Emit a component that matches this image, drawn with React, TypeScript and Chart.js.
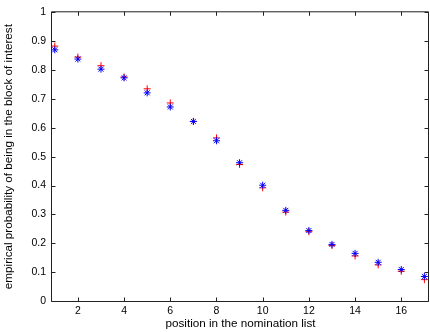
import React, { useEffect, useRef } from "react";
import { Chart, registerables } from "chart.js";

Chart.register(...registerables);

const positions = [1, 2, 3, 4, 5, 6, 7, 8, 9, 10, 11, 12, 13, 14, 15, 16, 17];
const redValues = [0.883, 0.845, 0.815, 0.776, 0.735, 0.686, 0.622, 0.565, 0.473, 0.392, 0.308, 0.240, 0.192, 0.156, 0.125, 0.103, 0.074];
const blueValues = [0.870, 0.838, 0.803, 0.773, 0.721, 0.672, 0.622, 0.555, 0.479, 0.401, 0.314, 0.244, 0.196, 0.165, 0.134, 0.109, 0.085];
const xTicks = [2, 4, 6, 8, 10, 12, 14, 16];
const yTicks = [0, 0.1, 0.2, 0.3, 0.4, 0.5, 0.6, 0.7, 0.8, 0.9, 1];
const xTitle = "position in the nomination list";
const yTitle = "empirical probability of being in the block of interest";

const FAMILY = "'Liberation Sans', Arial, sans-serif";
const TICK_FONT = { family: FAMILY, size: 10.5 };
const TITLE_FONT = { family: FAMILY, size: 11.7 };

const boxPlugin = {
  id: "matlabBox",
  afterDraw(chart: any) {
    const { ctx, chartArea } = chart;
    const { left, right, top, bottom } = chartArea;
    const xs = chart.scales.x;
    const ys = chart.scales.y;
    ctx.save();
    ctx.strokeStyle = "#222";
    ctx.lineWidth = 1;
    const L = left - 0.5, R = right - 0.5, T = top - 0.5, B = bottom + 0.5;
    ctx.beginPath();
    ctx.moveTo(L, T); ctx.lineTo(R, T); ctx.lineTo(R, B); ctx.lineTo(L, B); ctx.closePath();
    const tl = 4;
    xTicks.forEach((v) => {
      const px = Math.round(xs.getPixelForValue(v)) + 0.5;
      ctx.moveTo(px, B); ctx.lineTo(px, B - tl);
      ctx.moveTo(px, T); ctx.lineTo(px, T + tl);
    });
    yTicks.forEach((v) => {
      const py = Math.round(ys.getPixelForValue(v)) + 0.5;
      ctx.moveTo(L, py); ctx.lineTo(L + tl, py);
      ctx.moveTo(R, py); ctx.lineTo(R - tl, py);
    });
    ctx.stroke();
    ctx.restore();
  },
};

export default function App() {
  const ref = useRef<HTMLCanvasElement | null>(null);
  useEffect(() => {
    document.body.style.margin = "0";
    const canvas = ref.current;
    if (!canvas) return;
    const chart = new Chart(canvas, {
      type: "scatter",
      data: {
        datasets: [
          {
            label: "blue",
            data: positions.map((x, i) => ({ x, y: blueValues[i] })),
            pointStyle: "star",
            radius: 3.5,
            borderColor: "#0000ff",
            backgroundColor: "#0000ff",
            borderWidth: 1,
          },
          {
            label: "red",
            data: positions.map((x, i) => ({ x, y: redValues[i] })),
            pointStyle: "cross",
            radius: 3.5,
            borderColor: "#ff0000",
            backgroundColor: "#ff0000",
            borderWidth: 1,
          },
        ],
      },
      options: {
        responsive: false,
        animation: false,
        layout: { autoPadding: false, padding: { top: 2, right: 1, left: 0, bottom: 0 } },
        plugins: { legend: { display: false }, tooltip: { enabled: false } },
        scales: {
          x: {
            type: "linear",
            min: 0.88,
            max: 17.2,
            grid: { display: false, drawTicks: false },
            border: { display: false },
            afterBuildTicks: (s: any) => { s.ticks = xTicks.map((v) => ({ value: v })); },
            afterFit: (s: any) => { s.height = 31; },
            ticks: { color: "#000", font: TICK_FONT, padding: 4, maxRotation: 0, autoSkip: false, callback: (v: any) => String(v) },
            title: { display: true, text: xTitle, color: "#000", font: TITLE_FONT, padding: { top: 0, bottom: 1 } },
          },
          y: {
            type: "linear",
            min: 0,
            max: 1,
            grid: { display: false, drawTicks: false },
            border: { display: false },
            afterBuildTicks: (s: any) => { s.ticks = yTicks.map((v) => ({ value: v })); },
            afterFit: (s: any) => { s.width = 52; },
            ticks: { color: "#000", font: TICK_FONT, padding: 6, autoSkip: false, callback: (v: any) => String(Math.round(v * 10) / 10) },
            title: { display: true, text: yTitle, color: "#000", font: TITLE_FONT, padding: { top: 2, bottom: 0 } },
          },
        },
      },
      plugins: [boxPlugin],
    });
    return () => chart.destroy();
  }, []);
  return <canvas ref={ref} width={430} height={332} style={{ display: "block" }} />;
}
